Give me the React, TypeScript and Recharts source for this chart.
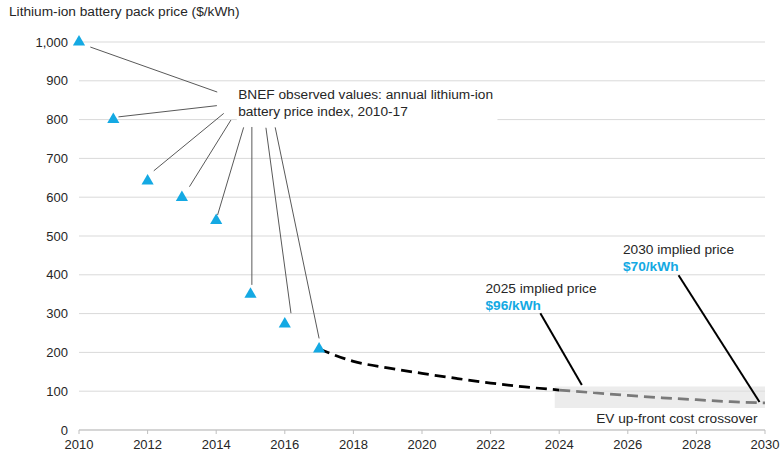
import React from "react";
import {
  ComposedChart, Line, Scatter, XAxis, YAxis, CartesianGrid,
  ReferenceArea, ReferenceLine, ReferenceDot,
} from "recharts";

const FONT = "'Liberation Sans', Arial, sans-serif";
const BLUE = "#14a9e3";
const TEXT = "#262626";

// BNEF observed price index, 2010-17
const observedYears = [2010, 2011, 2012, 2013, 2014, 2015, 2016, 2017];
const observedPrice = [1000, 800, 642, 599, 540, 350, 273, 209];

// implied path after 2017
const projYears = [2017, 2018, 2019, 2020, 2021, 2022, 2023, 2024, 2025, 2026, 2027, 2028, 2029, 2030];
const projPrice = [209, 177, 160, 146, 133, 121, 111, 103, 96, 89, 83, 78, 73, 70];
const splitYear = 2024;

const xTicks = [2010, 2012, 2014, 2016, 2018, 2020, 2022, 2024, 2026, 2028, 2030];
const yTicks = [0, 100, 200, 300, 400, 500, 600, 700, 800, 900, 1000];

// leader lines from each observed point to the note (data coords)
const leaderLines = [
  [[2010.33, 987], [2014.03, 871]],
  [[2011.15, 807], [2014.02, 836]],
  [[2012.18, 668], [2014.22, 816]],
  [[2013.22, 627], [2014.43, 799]],
  [[2014.04, 554], [2014.80, 780]],
  [[2015.04, 374], [2015.04, 781]],
  [[2016.18, 301], [2015.45, 779]],
  [[2017.0, 236], [2015.72, 780]],
];
const implied2025Line = [[2023.45, 301], [2024.66, 116]];
const implied2030Line = [[2027.48, 399], [2029.84, 72]];

const observedData = observedYears.map((year, i) => ({ year, price: observedPrice[i] }));
const projData = projYears.map((year, i) => ({
  year,
  early: year <= splitYear ? projPrice[i] : null,
  late: year >= splitYear ? projPrice[i] : null,
}));

type Note = { x: number; y: number; lines: { text: string; blue?: boolean }[]; anchor?: "start" | "end" };

const notes: Note[] = [
  { x: 2014.64, y: 852, lines: [{ text: "BNEF observed values: annual lithium-ion" }, { text: "battery price index, 2010-17" }] },
  { x: 2021.85, y: 353, lines: [{ text: "2025 implied price" }, { text: "$96/kWh", blue: true }] },
  { x: 2025.86, y: 453, lines: [{ text: "2030 implied price" }, { text: "$70/kWh", blue: true }] },
  { x: 2029.78, y: 19, lines: [{ text: "EV up-front cost crossover" }], anchor: "end" },
];

function noteShape(note: Note) {
  return (p: any) => (
    <text x={p.cx} y={p.cy} textAnchor={note.anchor || "start"} fontFamily={FONT} fontSize={13.7}>
      {note.lines.map((l, i) => (
        <tspan
          key={i}
          x={p.cx}
          dy={i === 0 ? 0 : 16.5}
          fill={l.blue ? BLUE : TEXT}
          fontWeight={l.blue ? "bold" : "normal"}
        >
          {l.text}
        </tspan>
      ))}
    </text>
  );
}

export default function App() {
  return (
    <div style={{ position: "absolute", left: 0, top: 0, width: 781, height: 454, background: "#fff", fontFamily: FONT }}>
      <div style={{ position: "absolute", left: 9, top: 4, fontSize: 13.7, lineHeight: "15px", color: TEXT }}>
        Lithium-ion battery pack price ($/kWh)
      </div>
      <ComposedChart
        width={781}
        height={454}
        data={projData}
        margin={{ top: 42, right: 16, left: 0, bottom: 0 }}
      >
        <CartesianGrid vertical={false} stroke="#d9d9d9" />
        <XAxis
          dataKey="year"
          type="number"
          domain={[2010, 2030]}
          ticks={xTicks}
          height={24}
          axisLine={{ stroke: "#bfbfbf" }}
          tickLine={{ stroke: "#bfbfbf" }}
          tickSize={4}
          tickMargin={6}
          tick={{ fill: TEXT, fontSize: 13, fontFamily: FONT }}
        />
        <YAxis
          type="number"
          domain={[0, 1000]}
          ticks={yTicks}
          width={79}
          axisLine={false}
          tickLine={false}
          tickSize={0}
          tickMargin={11}
          tick={{ fill: TEXT, fontSize: 13, fontFamily: FONT }}
          tickFormatter={(v: number) => v.toLocaleString("en-US")}
        />
        <ReferenceArea x1={2014.6} x2={2022.2} y1={779} y2={886} fill="#ffffff" fillOpacity={1} stroke="none" />
        <ReferenceArea x1={2023.87} x2={2030} y1={57} y2={112} fill="#dfdfdf" fillOpacity={0.6} stroke="none" />
        {leaderLines.map((seg, i) => (
          <ReferenceLine
            key={i}
            segment={[{ x: seg[0][0], y: seg[0][1] }, { x: seg[1][0], y: seg[1][1] }]}
            stroke="#595959"
            strokeWidth={1}
          />
        ))}
        <ReferenceLine
          segment={[{ x: implied2025Line[0][0], y: implied2025Line[0][1] }, { x: implied2025Line[1][0], y: implied2025Line[1][1] }]}
          stroke="#000"
          strokeWidth={2}
        />
        <ReferenceLine
          segment={[{ x: implied2030Line[0][0], y: implied2030Line[0][1] }, { x: implied2030Line[1][0], y: implied2030Line[1][1] }]}
          stroke="#000"
          strokeWidth={2}
        />
        <Line
          dataKey="early"
          type="monotone"
          stroke="#000"
          strokeWidth={2.75}
          strokeDasharray="11 6"
          dot={false}
          connectNulls={false}
          isAnimationActive={false}
        />
        <Line
          dataKey="late"
          type="monotone"
          stroke="#7a7a7a"
          strokeWidth={2.75}
          strokeDasharray="11 6"
          dot={false}
          connectNulls={false}
          isAnimationActive={false}
        />
        <Scatter
          data={observedData}
          dataKey="price"
          shape="triangle"
          fill={BLUE}
          isAnimationActive={false}
        />
        {notes.map((n, i) => (
          <ReferenceDot key={i} x={n.x} y={n.y} r={0} shape={noteShape(n)} ifOverflow="visible" />
        ))}
      </ComposedChart>
    </div>
  );
}
